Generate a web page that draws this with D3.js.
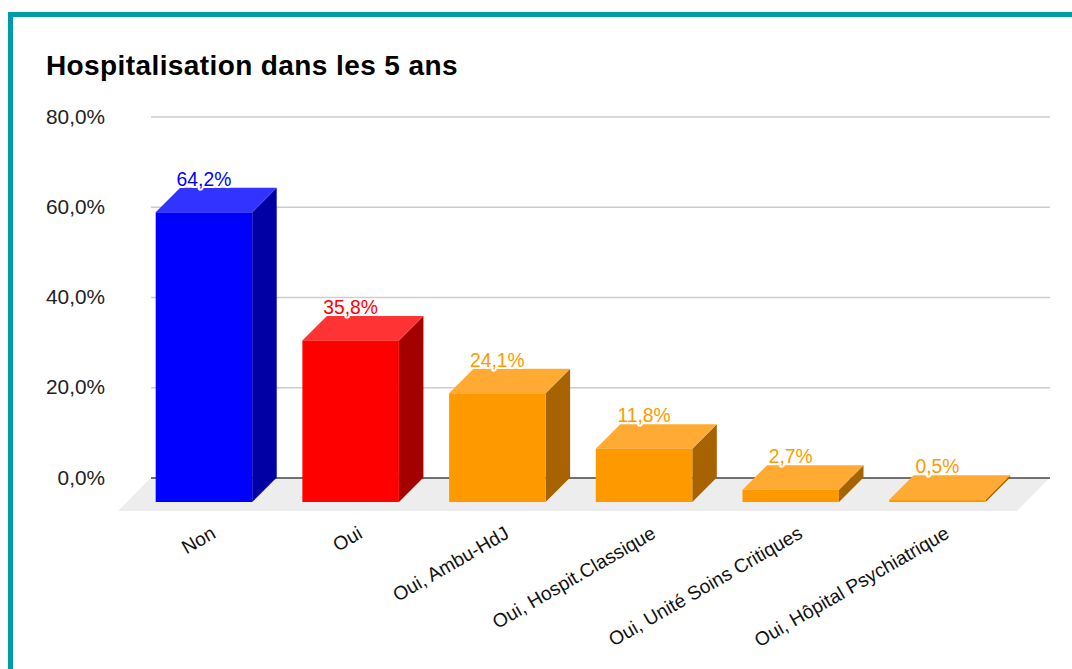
<!DOCTYPE html>
<html>
<head>
<meta charset="utf-8">
<script src="https://cdn.jsdelivr.net/npm/d3@7"></script>
<style>
  html, body { margin: 0; padding: 0; background: #fff; }
  svg { display: block; font-family: "Liberation Sans", Arial, sans-serif; }
</style>
</head>
<body>
<div id="viz"></div>
<script>
const categories = ["Non", "Oui", "Oui, Ambu-HdJ", "Oui, Hospit.Classique", "Oui, Unité Soins Critiques", "Oui, Hôpital Psychiatrique"];
const values = [64.2, 35.8, 24.1, 11.8, 2.7, 0.5];
const ticks = [0, 20, 40, 60, 80];
const frontColors = ["#0000ff", "#ff0000", "#ff9900", "#ff9900", "#ff9900", "#ff9900"];
const topColors = ["#3333ff", "#ff3333", "#ffaa33", "#ffaa33", "#ffaa33", "#ffaa33"];
const sideColors = ["#0000a5", "#a50000", "#a66300", "#a66300", "#a66300", "#a66300"];

const width = 1072, height = 669;
const depth = 24.5; // 3d offset of the bars

const svg = d3.select("#viz")
  .append("svg")
  .attr("width", width)
  .attr("height", height);

// teal frame, open on the right and bottom
svg.append("path")
  .attr("d", "M10.5,669V14.5H1072")
  .attr("fill", "none")
  .attr("stroke", "#009ca6")
  .attr("stroke-width", 5);

svg.append("text")
  .attr("x", 46)
  .attr("y", 75)
  .attr("font-size", 28)
  .attr("letter-spacing", 0.4)
  .attr("font-weight", "bold")
  .attr("fill", "#000")
  .text("Hospitalisation dans les 5 ans");

const fr = d3.formatLocale({ decimal: ",", thousands: " ", grouping: [3], currency: ["", "%"] });
const pct = v => fr.format(".1f")(v) + "%";

const x = d3.scaleBand()
  .domain(categories)
  .range([130.6, 1010.8])
  .paddingInner(0.342)
  .paddingOuter(0.171);

const y = d3.scaleLinear()
  .domain([0, 80])
  .range([477.5, 116.5]);

// floor
svg.append("path")
  .attr("d", `M151,${y(0)}H1050L1017,511H118Z`)
  .attr("fill", "#ededed");

// y axis + grid
const yAxis = svg.append("g")
  .attr("transform", "translate(151,0)")
  .call(d3.axisLeft(y).tickValues(ticks).tickFormat(pct).tickSize(-899).tickPadding(46));
yAxis.select(".domain").remove();
yAxis.selectAll("line")
  .attr("stroke", d => d === 0 ? "#444" : "#cccccc")
  .attr("stroke-width", 1.5);
yAxis.selectAll("text")
  .attr("font-family", "inherit")
  .attr("font-size", 20.8)
  .attr("fill", "#222");

// bars
const bars = svg.selectAll("g.bar")
  .data(categories.map((c, i) => ({ c, v: values[i], i })))
  .join("g")
  .attr("class", "bar");

const bw = x.bandwidth();
const base = y(0) + depth;

bars.append("path") // side
  .attr("d", d => {
    const r = x(d.c) + bw, t = y(d.v) + depth;
    return `M${r},${t}l${depth},${-depth}V${y(0)}L${r},${base}Z`;
  })
  .attr("fill", d => sideColors[d.i]);

bars.append("path") // top
  .attr("d", d => {
    const l = x(d.c), t = y(d.v) + depth;
    return `M${l},${t}l${depth},${-depth}h${bw}l${-depth},${depth}Z`;
  })
  .attr("fill", d => topColors[d.i]);

bars.append("rect") // front
  .attr("x", d => x(d.c))
  .attr("y", d => y(d.v) + depth)
  .attr("width", bw)
  .attr("height", d => y(0) - y(d.v))
  .attr("fill", d => frontColors[d.i]);

// value labels
bars.append("text")
  .attr("x", d => x(d.c) + bw / 2)
  .attr("y", d => y(d.v) - 2)
  .attr("text-anchor", "middle")
  .attr("font-size", 19.3)
  .attr("fill", d => frontColors[d.i])
  .attr("stroke", "#fff")
  .attr("stroke-width", 4)
  .attr("stroke-linejoin", "round")
  .attr("paint-order", "stroke")
  .text(d => pct(d.v));

// category labels
const xAxis = svg.append("g")
  .attr("transform", "translate(0,511)")
  .call(d3.axisBottom(x).tickSize(0));
xAxis.select(".domain").remove();
xAxis.selectAll("text")
  .attr("font-family", "inherit")
  .attr("font-size", 19.2)
  .attr("fill", "#111")
  .attr("text-anchor", "end")
  .attr("dy", null)
  .attr("y", 0)
  .attr("transform", "translate(13,26) rotate(-30)");
</script>
</body>
</html>
